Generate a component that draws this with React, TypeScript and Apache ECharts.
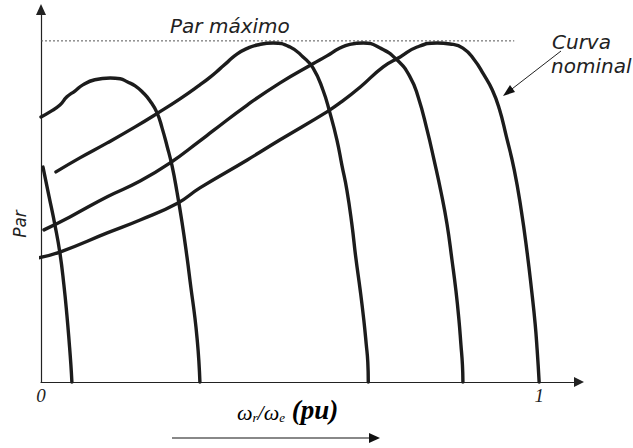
import { useEffect, useRef } from "react";
import * as echarts from "echarts";

// Speed axis (pu) tick labels
const speedTicks = [0, 1];

// Maximum torque level (pu of the peak)
const parMaximo = 1;
const parMaximoEnd = 0.95;

// Torque–speed curves, lowest supply frequency first; [ωr/ωe, Par]
const curva1 = [
  [0.004, 0.630], [0.016, 0.545], [0.028, 0.460], [0.038, 0.378], [0.046, 0.284],
  [0.052, 0.196], [0.057, 0.109], [0.060, 0.050], [0.062, 0.0],
];

const curva2 = [
  [0.0, 0.777], [0.018, 0.792], [0.038, 0.812], [0.052, 0.836], [0.068, 0.853],
  [0.084, 0.871], [0.108, 0.886], [0.139, 0.891], [0.159, 0.889], [0.173, 0.880],
  [0.189, 0.868], [0.205, 0.848], [0.219, 0.824], [0.233, 0.789], [0.243, 0.745],
  [0.253, 0.692], [0.263, 0.634], [0.273, 0.557], [0.283, 0.469], [0.293, 0.367],
  [0.301, 0.276], [0.309, 0.188], [0.314, 0.117], [0.317, 0.059], [0.319, 0.0],
];

const curva3 = [
  [0.030, 0.616], [0.078, 0.657], [0.133, 0.701], [0.189, 0.748], [0.235, 0.789],
  [0.279, 0.830], [0.319, 0.871], [0.339, 0.893], [0.359, 0.918], [0.376, 0.940],
  [0.394, 0.962], [0.414, 0.978], [0.434, 0.988], [0.466, 0.994], [0.500, 0.982],
  [0.526, 0.953], [0.546, 0.921], [0.566, 0.856], [0.580, 0.789], [0.594, 0.710],
  [0.604, 0.636], [0.614, 0.563], [0.624, 0.463], [0.632, 0.364], [0.641, 0.267],
  [0.648, 0.182], [0.653, 0.109], [0.656, 0.059], [0.657, 0.0],
];

const curva4 = [
  [0.006, 0.446], [0.058, 0.484], [0.133, 0.543], [0.199, 0.589], [0.259, 0.642],
  [0.319, 0.707], [0.345, 0.736], [0.414, 0.812], [0.480, 0.877], [0.546, 0.933],
  [0.574, 0.956], [0.600, 0.979], [0.620, 0.990], [0.647, 0.994], [0.681, 0.979],
  [0.715, 0.944], [0.741, 0.894], [0.757, 0.836], [0.775, 0.739], [0.789, 0.651],
  [0.803, 0.557], [0.815, 0.463], [0.825, 0.358], [0.833, 0.267], [0.839, 0.182],
  [0.843, 0.109], [0.846, 0.050], [0.847, 0.0],
];

// Nominal (rated frequency) curve
const curvaNominal = [
  [-0.006, 0.364], [0.038, 0.381], [0.133, 0.437], [0.199, 0.475], [0.275, 0.525],
  [0.319, 0.569], [0.414, 0.651], [0.480, 0.710], [0.574, 0.792], [0.600, 0.818],
  [0.641, 0.865], [0.687, 0.924], [0.721, 0.953], [0.755, 0.982], [0.795, 0.994],
  [0.821, 0.991], [0.847, 0.979], [0.870, 0.944], [0.888, 0.903], [0.906, 0.856],
  [0.920, 0.801], [0.934, 0.721], [0.950, 0.622], [0.964, 0.504], [0.976, 0.378],
  [0.985, 0.267], [0.992, 0.170], [0.996, 0.094], [1.0, 0.0],
];

const curves = [curva1, curva2, curva3, curva4, curvaNominal];

const INK = "#1c1c1c";
const SANS = "DejaVu Sans";
const SERIF = "Liberation Serif";

export default function App() {
  const ref = useRef<HTMLDivElement>(null);

  useEffect(() => {
    if (!ref.current) return;
    const chart = echarts.init(ref.current, undefined, { renderer: "svg" });

    const curveSeries = curves.map((data) => ({
      type: "line",
      data,
      showSymbol: false,
      symbol: "none",
      smooth: 0.5,
      clip: false,
      silent: true,
      lineStyle: { color: INK, width: 3.4, cap: "round", join: "round" },
      z: 3,
    }));

    chart.setOption({
      animation: false,
      backgroundColor: "#ffffff",
      grid: { left: 41, right: 54, top: 9.5, bottom: 66, containLabel: false },
      xAxis: {
        type: "value",
        min: 0,
        max: 1.08,
        splitLine: { show: false },
        axisTick: { show: false },
        axisLine: {
          lineStyle: { color: "#222", width: 1.2 },
          symbol: ["none", "triangle"],
          symbolSize: [10, 10],
        },
        axisLabel: {
          customValues: speedTicks,
          formatter: (v: number) => (speedTicks.includes(v) ? String(v) : ""),
          fontFamily: SERIF,
          fontStyle: "italic",
          fontSize: 19,
          color: "#222",
          margin: 4,
        },
      },
      yAxis: {
        type: "value",
        min: 0,
        max: 1.092,
        splitLine: { show: false },
        axisTick: { show: false },
        axisLabel: { show: false },
        axisLine: {
          lineStyle: { color: "#222", width: 1.2 },
          symbol: ["none", "triangle"],
          symbolSize: [10, 11],
        },
      },
      series: [
        {
          type: "line",
          data: [
            [0, parMaximo],
            [parMaximoEnd, parMaximo],
          ],
          showSymbol: false,
          symbol: "none",
          silent: true,
          lineStyle: { color: "#555", width: 1, type: [2, 2] },
          z: 2,
        },
        ...curveSeries,
      ],
      graphic: [
        {
          type: "text",
          x: 170,
          y: 26,
          style: {
            text: "Par máximo",
            font: `italic 20px "${SANS}"`,
            fill: "#222",
            align: "left",
            verticalAlign: "middle",
          },
        },
        {
          type: "text",
          x: 20,
          y: 224,
          rotation: Math.PI / 2,
          style: {
            text: "Par",
            font: `italic 17px "${SANS}"`,
            fill: "#222",
            align: "center",
            verticalAlign: "middle",
          },
        },
        {
          type: "text",
          x: 552,
          y: 42,
          style: {
            text: "Curva",
            font: `italic 20px "${SANS}"`,
            fill: "#222",
            align: "left",
            verticalAlign: "middle",
          },
        },
        {
          type: "text",
          x: 551,
          y: 66,
          style: {
            text: "nominal",
            font: `italic 20px "${SANS}"`,
            fill: "#222",
            align: "left",
            verticalAlign: "middle",
          },
        },
        // pointer to the nominal curve
        {
          type: "line",
          shape: { x1: 561, y1: 51, x2: 508, y2: 92 },
          style: { stroke: "#222", lineWidth: 1 },
        },
        {
          type: "polygon",
          shape: { points: [[503, 96], [515, 92], [510, 85]] },
          style: { fill: "#111" },
        },
        // speed axis title
        {
          type: "text",
          x: 237,
          y: 409,
          style: {
            text: "{w|ω}{s|r}{w|/ω}{s|e}{b| (pu)}",
            align: "left",
            verticalAlign: "middle",
            rich: {
              w: {
                fontFamily: SERIF,
                fontStyle: "italic",
                fontSize: 22,
                color: "#222",
                lineHeight: 26,
                verticalAlign: "bottom",
              },
              s: {
                fontFamily: SERIF,
                fontStyle: "italic",
                fontSize: 13,
                color: "#222",
                lineHeight: 16,
                verticalAlign: "bottom",
              },
              b: {
                fontFamily: SERIF,
                fontStyle: "italic",
                fontWeight: "bold",
                fontSize: 27,
                color: "#222",
                lineHeight: 29,
                verticalAlign: "bottom",
              },
            },
          },
        },
        // direction-of-increasing-speed arrow
        {
          type: "line",
          shape: { x1: 172, y1: 438, x2: 371, y2: 438 },
          style: { stroke: "#888", lineWidth: 2 },
        },
        {
          type: "polygon",
          shape: { points: [[380, 438], [369, 433], [369, 443]] },
          style: { fill: "#111" },
        },
      ],
    });

    return () => chart.dispose();
  }, []);

  return (
    <div
      ref={ref}
      style={{ position: "absolute", left: 0, top: 0, width: 633, height: 448 }}
    />
  );
}
